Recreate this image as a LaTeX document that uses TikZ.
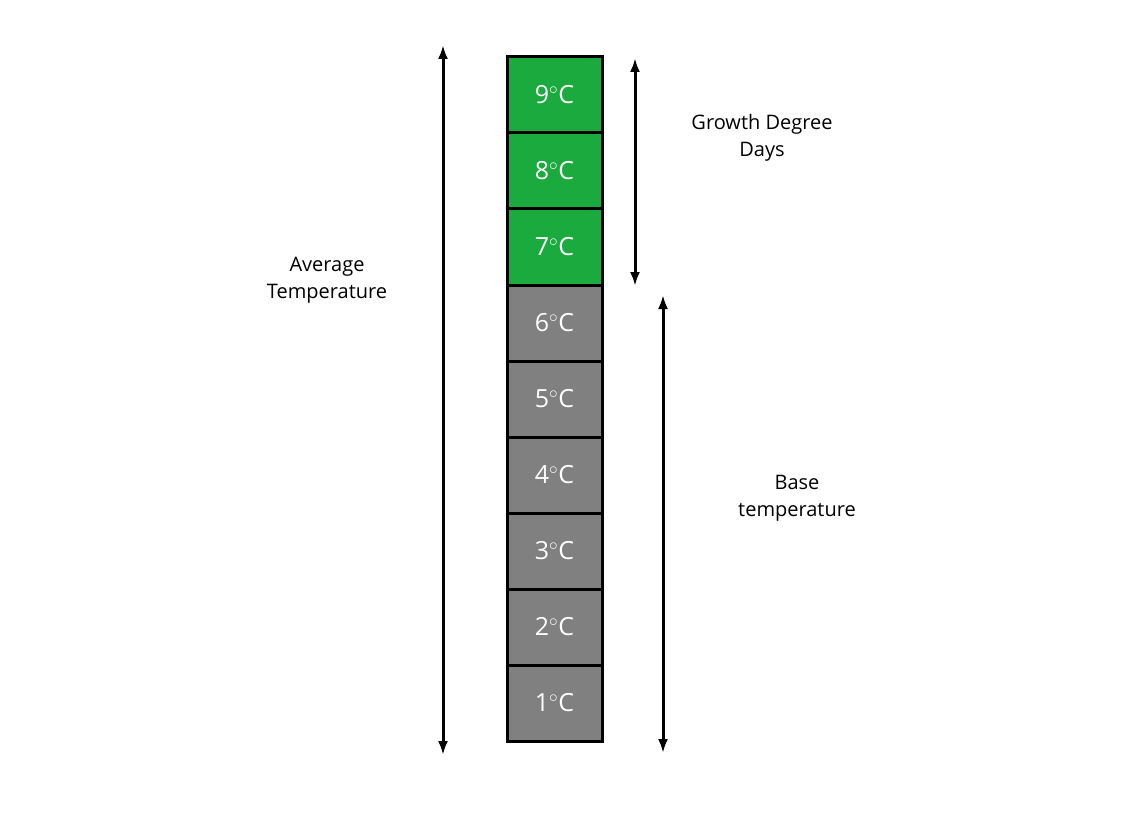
\documentclass[tikz,border=0pt]{standalone}
\usepackage{fontspec}
\setmainfont{Open Sans}
\usetikzlibrary{arrows.meta}
\definecolor{gr}{HTML}{1AAA3E}
\definecolor{gy}{HTML}{808080}
\begin{document}
\begin{tikzpicture}[x=1pt,y=-1pt,
  cell/.style={draw=black,line width=3pt,minimum width=95pt,minimum height=76pt,inner sep=0,text=white,font=\fontsize{25}{28}\selectfont},
  dim/.style={line width=3pt,{Latex[length=14pt,width=10pt]}-{Latex[length=14pt,width=10pt]}},
  lab/.style={align=center,font=\fontsize{20}{27}\selectfont}]
\useasboundingbox (0,0) rectangle (1132,821);
\foreach \t/\c [count=\i] in {9/gr,8/gr,7/gr,6/gy,5/gy,4/gy,3/gy,2/gy,1/gy}{
  \node[cell,fill=\c] (c\t) at (554.5,{57+38+76*(\i-1)}) {\t$^\circ$C};
}
\coordinate (a1) at (443,45); \coordinate (a2) at (443,755);
\coordinate (g1) at (635,58); \coordinate (g2) at (635,286);
\coordinate (b1) at (663,295); \coordinate (b2) at (663,753);
\draw[dim] (a1) -- (a2);
\draw[dim] (g1) -- (g2);
\draw[dim] (b1) -- (b2);
\node[lab] (la) at (327,280) {Average\\Temperature};
\node[lab] (lg) at (762,138) {Growth Degree\\Days};
\node[lab] (lb) at (797,498) {Base\\temperature};
\end{tikzpicture}
\end{document}
